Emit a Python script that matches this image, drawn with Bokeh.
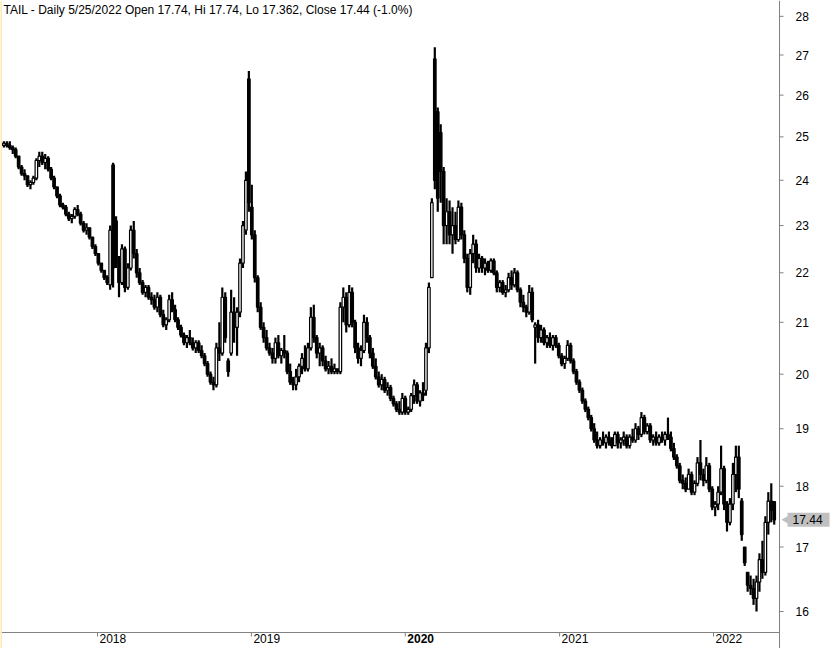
import math
import numpy as np
import pandas as pd
from bokeh.plotting import figure
from bokeh.models import ColumnDataSource, Range1d, Span
from bokeh.core.properties import value
from bokeh.embed import file_html
from bokeh.resources import INLINE

# ---------------- data (weekly bars) ----------------
first_week = "2017-05-24"
opens = [
    24.80, 24.85, 24.80, 24.75, 24.70, 24.55, 24.30, 24.15, 24.10, 23.90,
    23.95, 24.05, 24.45, 24.55, 24.40, 24.50, 24.25, 24.05, 23.85, 23.65,
    23.45, 23.40, 23.25, 23.15, 23.20, 23.35, 23.25, 23.05, 22.90, 22.95,
    22.75, 22.55, 22.40, 22.20, 22.05, 21.90, 21.75, 24.35, 23.10, 22.20,
    21.80, 22.50, 21.70, 22.10, 22.90, 22.40, 22.00, 21.80, 21.60, 21.70,
    21.50, 21.45, 21.30, 21.50, 21.15, 20.95, 21.05, 21.45, 21.25, 21.05,
    20.90, 20.75, 20.60, 20.70, 20.60, 20.50, 20.60, 20.45, 20.35, 20.20,
    20.00, 19.85, 19.80, 20.50, 20.40, 21.50, 20.25, 20.40, 21.20, 20.90,
    21.20, 22.20, 22.90, 26.40, 23.40, 22.80, 21.90, 21.30, 20.90, 20.70,
    20.50, 20.40, 20.30, 20.60, 20.35, 20.45, 20.40, 20.05, 19.85, 19.80,
    19.95, 20.15, 20.30, 20.10, 20.50, 21.10, 20.70, 20.40, 20.50, 20.25,
    20.10, 20.15, 20.05, 20.10, 20.05, 21.30, 21.50, 20.95, 21.60, 21.00,
    20.50, 20.30, 20.45, 21.00, 20.70, 20.40, 20.15, 19.95, 19.80, 19.90,
    19.70, 19.75, 19.55, 19.45, 19.35, 19.30, 19.55, 19.30, 19.35, 19.60,
    19.80, 19.50, 19.65, 19.70, 20.50, 21.90, 26.90, 25.60, 25.10, 24.20,
    23.00, 23.30, 22.80, 23.00, 22.70, 23.40, 22.80, 22.30, 21.70, 22.40,
    22.60, 22.10, 22.30, 22.10, 22.20, 22.05, 22.25, 22.00, 21.70, 21.80,
    21.60, 21.65, 21.90, 21.75, 22.00, 21.65, 21.40, 21.30, 21.20, 21.60,
    20.90, 20.95, 20.70, 20.85, 20.60, 20.70, 20.55, 20.70, 20.55, 20.35,
    20.20, 20.30, 20.55, 20.25, 20.05, 19.85, 19.70, 19.50, 19.35, 19.20,
    19.00, 18.80, 18.70, 18.80, 18.75, 18.85, 18.80, 18.70, 18.90, 18.75,
    18.80, 18.85, 18.70, 18.85, 18.80, 19.00, 18.90, 19.20, 18.95, 19.05,
    18.80, 18.85, 18.75, 18.85, 18.80, 18.90, 18.85, 18.65, 18.50, 18.35,
    18.10, 18.05, 17.95, 18.20, 17.90, 18.05, 18.40, 18.20, 18.10, 18.35,
    17.95, 17.65, 17.70, 17.90, 18.30, 17.70, 17.40, 17.70, 18.20, 18.50,
    17.75, 17.00, 16.60, 16.40, 16.35, 16.20, 16.45, 16.80, 16.60, 17.40,
    17.75, 17.74,
]
highs = [
    24.90, 24.90, 24.90, 24.80, 24.75, 24.55, 24.35, 24.25, 24.10, 24.00,
    24.10, 24.50, 24.65, 24.65, 24.60, 24.55, 24.30, 24.10, 23.85, 23.70,
    23.50, 23.45, 23.30, 23.25, 23.40, 23.45, 23.30, 23.10, 23.05, 22.95,
    22.75, 22.60, 22.40, 22.20, 22.05, 21.95, 23.00, 24.40, 23.20, 22.35,
    22.60, 22.55, 22.20, 23.00, 23.10, 22.50, 22.10, 21.85, 21.75, 21.75,
    21.60, 21.55, 21.60, 21.55, 21.25, 21.10, 21.55, 21.60, 21.35, 21.10,
    20.95, 20.80, 20.75, 20.85, 20.70, 20.65, 20.65, 20.55, 20.40, 20.25,
    20.05, 19.95, 20.60, 21.00, 21.70, 21.60, 20.30, 21.65, 21.50, 21.30,
    22.30, 23.10, 24.20, 26.60, 23.90, 22.90, 21.95, 21.40, 21.00, 20.85,
    20.60, 20.50, 20.70, 20.75, 20.50, 20.75, 20.45, 20.20, 19.95, 20.10,
    20.20, 20.40, 20.55, 20.60, 21.30, 21.35, 20.75, 20.60, 20.55, 20.35,
    20.25, 20.30, 20.20, 20.10, 21.40, 21.70, 21.60, 21.75, 21.70, 21.05,
    20.60, 20.55, 21.15, 21.10, 20.75, 20.50, 20.30, 20.05, 20.00, 19.95,
    19.85, 19.80, 19.60, 19.50, 19.50, 19.65, 19.60, 19.40, 19.65, 19.90,
    19.85, 19.70, 19.85, 20.60, 21.80, 23.60, 27.20, 25.70, 25.30, 24.30,
    23.60, 23.55, 23.40, 23.30, 23.55, 23.50, 22.90, 22.40, 22.50, 22.80,
    22.70, 22.40, 22.35, 22.30, 22.25, 22.30, 22.30, 22.05, 21.85, 21.85,
    21.75, 22.00, 22.05, 22.10, 22.05, 21.70, 21.55, 21.35, 21.75, 21.70,
    21.00, 21.05, 20.95, 20.90, 20.75, 20.80, 20.75, 20.75, 20.60, 20.40,
    20.35, 20.65, 20.60, 20.30, 20.10, 19.90, 19.75, 19.55, 19.40, 19.25,
    19.10, 18.95, 18.85, 18.95, 18.90, 18.95, 18.85, 18.95, 18.95, 18.85,
    18.95, 18.90, 18.90, 19.00, 19.10, 19.05, 19.30, 19.25, 19.10, 19.10,
    18.90, 18.95, 18.90, 18.95, 18.95, 19.20, 18.95, 18.75, 18.55, 18.40,
    18.20, 18.15, 18.30, 18.25, 18.10, 18.50, 18.80, 18.30, 18.50, 18.40,
    18.00, 17.75, 18.00, 18.70, 18.35, 17.75, 17.80, 18.40, 18.70, 18.70,
    17.80, 17.00, 16.60, 16.55, 16.50, 16.55, 16.90, 17.10, 17.50, 17.90,
    18.05, 17.74,
]
lows = [
    24.75, 24.75, 24.70, 24.60, 24.50, 24.25, 24.10, 24.00, 23.85, 23.80,
    23.90, 24.00, 24.30, 24.35, 24.25, 24.20, 24.00, 23.80, 23.60, 23.40,
    23.35, 23.20, 23.10, 23.05, 23.15, 23.20, 23.00, 22.85, 22.80, 22.70,
    22.50, 22.35, 22.15, 22.00, 21.85, 21.75, 21.65, 21.70, 22.10, 21.50,
    21.75, 21.60, 21.65, 22.05, 22.30, 21.90, 21.75, 21.55, 21.50, 21.45,
    21.35, 21.25, 21.20, 21.10, 20.90, 20.85, 21.00, 21.20, 21.00, 20.85,
    20.70, 20.55, 20.50, 20.55, 20.45, 20.40, 20.40, 20.30, 20.15, 19.95,
    19.80, 19.70, 19.75, 20.25, 20.35, 20.60, 19.95, 20.35, 20.60, 20.35,
    21.10, 22.10, 22.80, 23.30, 22.70, 21.80, 21.20, 20.85, 20.60, 20.45,
    20.35, 20.20, 20.20, 20.30, 20.20, 20.30, 20.00, 19.80, 19.70, 19.70,
    19.85, 20.00, 20.05, 20.05, 20.45, 20.60, 20.30, 20.15, 20.15, 20.05,
    20.00, 20.00, 20.00, 20.00, 20.00, 21.00, 20.80, 20.90, 20.90, 20.40,
    20.20, 20.15, 20.40, 20.60, 20.30, 20.10, 19.90, 19.75, 19.70, 19.65,
    19.60, 19.50, 19.40, 19.30, 19.25, 19.25, 19.25, 19.25, 19.30, 19.45,
    19.45, 19.40, 19.50, 19.60, 20.40, 21.90, 23.80, 23.30, 23.50, 22.60,
    22.60, 22.60, 22.40, 22.60, 22.65, 22.70, 22.20, 21.60, 21.55, 22.20,
    22.00, 22.00, 22.00, 21.95, 22.00, 22.00, 21.95, 21.60, 21.60, 21.55,
    21.50, 21.60, 21.65, 21.70, 21.60, 21.30, 21.20, 21.10, 21.15, 21.00,
    20.20, 20.60, 20.60, 20.55, 20.50, 20.50, 20.45, 20.50, 20.30, 20.15,
    20.10, 20.25, 20.20, 20.00, 19.80, 19.65, 19.45, 19.30, 19.15, 18.95,
    18.75, 18.65, 18.65, 18.70, 18.65, 18.70, 18.65, 18.70, 18.65, 18.65,
    18.70, 18.65, 18.65, 18.75, 18.75, 18.80, 18.85, 18.90, 18.90, 18.75,
    18.70, 18.70, 18.70, 18.75, 18.70, 18.80, 18.60, 18.45, 18.30, 18.05,
    17.95, 17.90, 17.95, 17.85, 17.85, 18.00, 18.10, 18.00, 18.05, 17.90,
    17.60, 17.50, 17.60, 17.85, 17.60, 17.25, 17.35, 17.60, 17.90, 17.80,
    17.10, 16.70, 16.30, 16.25, 16.10, 16.00, 16.30, 16.50, 16.55, 17.20,
    17.40, 17.362,
]
closes = [
    24.85, 24.80, 24.75, 24.70, 24.55, 24.30, 24.15, 24.10, 23.90, 23.95,
    24.05, 24.45, 24.55, 24.40, 24.50, 24.25, 24.05, 23.85, 23.65, 23.45,
    23.40, 23.25, 23.15, 23.20, 23.35, 23.25, 23.05, 22.90, 22.95, 22.75,
    22.55, 22.40, 22.20, 22.05, 21.90, 21.80, 22.90, 22.10, 22.20, 21.80,
    22.50, 21.70, 22.10, 22.90, 22.40, 22.00, 21.80, 21.60, 21.70, 21.50,
    21.45, 21.30, 21.50, 21.15, 20.95, 21.05, 21.45, 21.25, 21.05, 20.90,
    20.75, 20.60, 20.70, 20.60, 20.50, 20.60, 20.45, 20.35, 20.20, 20.00,
    19.85, 19.80, 20.50, 20.40, 21.50, 20.70, 20.05, 21.20, 20.90, 21.20,
    22.20, 23.00, 24.00, 23.50, 22.80, 21.90, 21.30, 20.90, 20.70, 20.50,
    20.40, 20.30, 20.60, 20.35, 20.45, 20.40, 20.05, 19.85, 19.80, 19.95,
    20.15, 20.30, 20.10, 20.50, 21.10, 20.70, 20.40, 20.50, 20.25, 20.10,
    20.15, 20.05, 20.10, 20.05, 21.30, 21.50, 20.95, 21.60, 21.00, 20.50,
    20.30, 20.45, 21.00, 20.70, 20.40, 20.15, 19.95, 19.80, 19.90, 19.70,
    19.75, 19.55, 19.45, 19.35, 19.30, 19.55, 19.30, 19.35, 19.60, 19.80,
    19.50, 19.65, 19.60, 20.50, 21.70, 23.50, 24.00, 23.60, 24.20, 23.00,
    23.30, 22.80, 23.00, 22.70, 23.40, 22.80, 22.30, 21.70, 22.40, 22.60,
    22.10, 22.30, 22.10, 22.20, 22.05, 22.25, 22.00, 21.70, 21.80, 21.60,
    21.65, 21.90, 21.75, 22.00, 21.65, 21.40, 21.30, 21.20, 21.60, 21.05,
    20.95, 20.70, 20.85, 20.60, 20.70, 20.55, 20.70, 20.55, 20.35, 20.20,
    20.30, 20.55, 20.25, 20.05, 19.85, 19.70, 19.50, 19.35, 19.20, 19.00,
    18.80, 18.70, 18.80, 18.75, 18.85, 18.80, 18.70, 18.90, 18.75, 18.80,
    18.85, 18.70, 18.85, 18.80, 19.00, 18.90, 19.20, 18.95, 19.05, 18.80,
    18.85, 18.75, 18.85, 18.80, 18.90, 18.85, 18.65, 18.50, 18.35, 18.10,
    18.05, 17.95, 18.20, 17.90, 18.05, 18.40, 18.20, 18.10, 18.35, 17.95,
    17.65, 17.70, 17.90, 18.30, 17.70, 17.40, 17.70, 18.20, 18.50, 17.95,
    17.20, 16.75, 16.40, 16.35, 16.20, 16.45, 16.80, 16.60, 17.40, 17.75,
    17.60, 17.44,
]
year_ticks = ["2018-01-01", "2019-01-01", "2020-01-01", "2021-01-01", "2022-01-01"]
year_labels = ["2018", "2019", "2020", "2021", "2022"]
bold_year = "2020"
price_ticks = [16, 17, 18, 19, 20, 21, 22, 23, 24, 25, 26, 27, 28]
title_text = "TAIL - Daily 5/25/2022 Open 17.74, Hi 17.74, Lo 17.362, Close 17.44 (-1.0%)"
last_price = 17.44

# ---------------- view geometry (ranges of the whole canvas) ----------------
W, H = 837, 648
x_start, x_end = pd.Timestamp("2017-05-15 22:30"), pd.Timestamp("2022-10-22 02:00")
axis_date = pd.Timestamp("2022-06-06 14:00")   # price-axis line position
y_top, y_bottom = 28.42, 15.453
axis_price = 15.687                            # time-axis line position

FONT = "Liberation Sans"
GRID_GRAY = "#808080"
BOX_GRAY = "#C0C0C0"

# ---------------- build ----------------
dates = pd.date_range(first_week, periods=len(closes), freq="7D")
o = np.array(opens); c = np.array(closes)
src = ColumnDataSource(dict(
    date=dates, high=highs, low=lows,
    top=np.maximum(o, c), bottom=np.minimum(o, c),
    fill=np.where(c >= o, "white", "black"),
))

p = figure(width=W, height=H, x_axis_type="datetime", y_axis_type="log",
           x_axis_location=None, y_axis_location=None,
           output_backend="svg", toolbar_location=None,
           x_range=Range1d(x_start, x_end), y_range=Range1d(y_bottom, y_top),
           min_border=0)
p.min_border_left = p.min_border_right = p.min_border_top = p.min_border_bottom = 0
p.outline_line_color = None
p.background_fill_color = "white"
p.border_fill_color = "white"
p.xgrid.visible = False
p.ygrid.visible = False

# left pale border
p.add_layout(Span(location=x_start, dimension="height", line_color="#FCEBB0", line_width=3))

# candles
p.segment(x0="date", y0="high", x1="date", y1="low", source=src,
          line_color="black", line_width=2.2)
p.vbar(x="date", top="top", bottom="bottom", width=6 * 24 * 3600 * 1000, source=src,
       fill_color="fill", line_color="black", line_width=1.2)

# price axis (right)
p.add_layout(Span(location=axis_date, dimension="height", line_color=GRID_GRAY, line_width=1))
p.ray(x=[axis_date] * len(price_ticks), y=price_ticks, length=4, length_units="screen",
      angle=0, line_color=GRID_GRAY, line_width=1)
p.text(x=[axis_date] * len(price_ticks), y=price_ticks, text=[str(t) for t in price_ticks],
       x_offset=16, text_align="left", text_baseline="middle",
       text_font=value(FONT), text_font_size="12px", text_color="black")

# time axis (bottom)
p.segment(x0=[x_start], y0=[axis_price], x1=[axis_date], y1=[axis_price],
          line_color=GRID_GRAY, line_width=1)
ytick_dates = [pd.Timestamp(t) for t in year_ticks]
p.ray(x=ytick_dates, y=[axis_price] * len(ytick_dates), length=4, length_units="screen",
      angle=-math.pi / 2, line_color=GRID_GRAY, line_width=1)
for d, lab in zip(ytick_dates, year_labels):
    p.text(x=[d], y=[axis_price], text=[lab], x_offset=2, y_offset=1,
           text_align="left", text_baseline="top", text_font=value(FONT),
           text_font_size="12px", text_color="black",
           text_font_style="bold" if lab == bold_year else "normal")

# title
p.text(x=[x_start], y=[y_top], text=[title_text], x_offset=3, y_offset=2,
       text_align="left", text_baseline="top", text_font=value(FONT),
       text_font_size="12px", text_color="black")

# last price marker: pointer + box + value
days_per_px = (x_end - x_start) / W
p.scatter(x=[axis_date + days_per_px * 10], y=[last_price], marker="triangle", size=14,
          angle=math.pi / 2, fill_color=BOX_GRAY, line_color=None)
p.rect(x=[axis_date + days_per_px * 29], y=[last_price], width=42, height=14,
       width_units="screen", height_units="screen", fill_color=BOX_GRAY, line_color=None)
p.text(x=[axis_date], y=[last_price], text=[f"{last_price:.2f}"], x_offset=13,
       text_align="left", text_baseline="middle", text_font=value(FONT),
       text_font_size="12px", text_color="black")

open("out.html", "w").write(file_html(p, INLINE))
